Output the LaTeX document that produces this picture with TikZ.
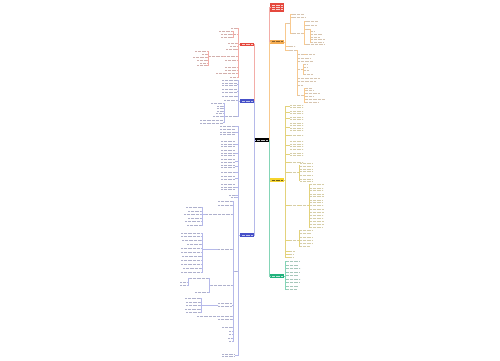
\documentclass[tikz,border=0pt]{standalone}
\definecolor{cred}{HTML}{E5483D}
\definecolor{corange}{HTML}{F4AC52}
\definecolor{cblue}{HTML}{4650C8}
\definecolor{cyellow}{HTML}{F6D42C}
\definecolor{cgreen}{HTML}{21B27C}
\tikzset{
  tn/.style={inner sep=0pt, outer sep=0pt},
  tx/.style={line width=0.9bp, draw={#1!60!black!38}, dash pattern=on 1bp off 0.3bp},
  lr/.style={draw=cred!45, line width=0.4bp},
  lo/.style={draw=corange!65, line width=0.4bp},
  lb/.style={draw=cblue!40, line width=0.4bp},
  ly/.style={draw=cyellow!85!black!60, line width=0.4bp},
  lg/.style={draw=cgreen!55, line width=0.4bp},
}
\def\tc{black}
% text block: name, x1, x2, ytop, number of lines
\newcommand\tl[5]{%
  \node[tn, minimum width={(#3-(#2))*1bp}, minimum height={#5*2.5bp}, anchor=north west] (#1) at (#2,#4) {};
  \foreach \ii in {1,...,#5}{\draw[tx=\tc] (#2,#4+\ii*2.5-1.2) -- (#3,#4+\ii*2.5-1.2);}%
}
% one-line leaf: name, x1, x2, ycenter
\newcommand\lf[4]{\tl{#1}{#2}{#3}{#4-1.25}{1}}
% connectors to children on the right / left
\newcommand\kR[4]{\foreach \q in {#4}{\draw[#3] (#1.east) -- ++(#2,0) |- (\q.west);}}
\newcommand\kL[4]{\foreach \q in {#4}{\draw[#3] (#1.west) -- ++(-#2,0) |- (\q.east);}}
% main topic: name, x1, ytop, x2, ybottom, fill, text colour, lines
\newcommand\mn[8]{%
  \node[tn, fill=#6, minimum width={(#4-(#2))*1bp}, minimum height={(#5-(#3))*1bp}, anchor=north west] (#1) at (#2,#3) {};
  \foreach \ii in {1,...,#8}{\draw[line width=0.55bp, draw=#7, dash pattern=on 0.9bp off 0.35bp] (#2+1.8,{#3+(#5-(#3))*\ii/(#8+1)}) -- (#4-1.8,{#3+(#5-(#3))*\ii/(#8+1)});}%
}
\begin{document}
\begin{tikzpicture}[x=1bp,y=-1bp]
\fill[white] (0,0) rectangle (500,360);
\useasboundingbox (0,0) rectangle (500,360);

% ---------- main topics ----------
\mn{C}{255}{138}{269}{142}{black}{white!75!black}{1}
\mn{T}{270}{3}{284}{12}{cred}{white!75!cred}{3}
\mn{O}{270}{40}{284}{43.5}{corange}{corange!55!black}{1}
\mn{R}{240}{42.8}{254}{46.2}{cred}{white!70!cred}{1}
\mn{B}{240}{99.3}{254}{102.7}{cblue}{white!65!cblue}{1}
\mn{D}{240}{233.3}{254}{236.7}{cblue}{white!65!cblue}{1}
\mn{Y}{270}{178.3}{284}{181.7}{cyellow}{cyellow!45!black}{1}
\mn{G}{270}{274.3}{284}{277.7}{cgreen}{white!70!cgreen}{1}

\draw[lr, line width=0.5bp] (C.west) -- ++(-0.5,0) |- (R.east);
\draw[lb, line width=0.5bp] (C.west) -- ++(-0.5,0) |- (B.east);
\draw[lb, line width=0.5bp] (C.west) -- ++(-0.5,0) |- (D.east);
\draw[lr, line width=0.5bp] (C.east) -- ++(0.5,0) |- (T.west);
\draw[lo, line width=0.5bp] (C.east) -- ++(0.5,0) |- (O.west);
\draw[ly, line width=0.5bp] (C.east) -- ++(0.5,0) |- (Y.west);
\draw[lg, line width=0.5bp] (C.east) -- ++(0.5,0) |- (G.west);

% ---------- orange branch ----------
\def\tc{corange}
\lf{O1}{286.5}{289.5}{23}
\lf{O2}{288.5}{295}{46.5}
\lf{O3}{288.5}{296}{50}
\kR{O}{1}{lo}{O1,O2,O3}
\lf{Oa}{291.5}{304}{14}
\lf{Ob}{291.5}{305}{17.5}
\lf{Oc}{291.5}{303}{33}
\kR{O1}{1}{lo}{Oa,Ob,Oc}
\lf{Oc1}{305.5}{318}{21}
\lf{Oc2}{305.5}{316}{25}
\lf{Oc3}{305.5}{309}{29}
\lf{Oc4}{305.5}{324}{44.5}
\kR{Oc}{1.2}{lo}{Oc1,Oc2,Oc3,Oc4}
\lf{Od1}{311}{314}{31.5}
\lf{Od2}{311}{322}{34.5}
\lf{Od3}{311}{320}{37}
\lf{Od4}{311}{325}{39.5}
\lf{Od5}{311}{323}{42}
\kR{Oc3}{1}{lo}{Od1,Od2,Od3,Od4,Od5}
\lf{Oe1}{298}{304}{54.5}
\lf{Oe2}{298}{310}{58}
\lf{Oe3}{298}{313}{61.5}
\lf{Oe4}{298}{302}{69}
\lf{Oe5}{298}{320}{78}
\lf{Oe6}{298}{315}{81.5}
\lf{Oe7}{298}{303}{85}
\lf{Oe8}{298}{303}{95}
\kR{O3}{1}{lo}{Oe1,Oe2,Oe3,Oe4,Oe5,Oe6,Oe7,Oe8}
\lf{Of1}{306}{314}{54.5}
\kR{Oe1}{1}{lo}{Of1}
\lf{Og1}{304}{307}{64.5}
\lf{Og2}{304}{307}{67.5}
\lf{Og3}{304}{308}{70.5}
\lf{Og4}{304}{312}{74}
\kR{Oe4}{1}{lo}{Og1,Og2,Og3,Og4}
\lf{Oh1}{306}{312}{88}
\lf{Oh2}{306}{313}{90.5}
\lf{Oh3}{306}{320}{93}
\lf{Oh4}{306}{313}{96}
\lf{Oh5}{306}{325}{99}
\lf{Oh6}{306}{318}{102}
\kR{Oe8}{1.5}{lo}{Oh1,Oh2,Oh3,Oh4,Oh5,Oh6}

% ---------- red branch ----------
\def\tc{cred}
\lf{R1}{231}{237}{28}
\lf{R2}{234}{237}{34}
\lf{R3}{228}{237}{43}
\lf{R4}{230}{237}{46}
\lf{R5}{226}{237}{49.5}
\lf{R6}{224}{237}{56}
\lf{R7}{225}{237}{60.5}
\lf{R8}{225}{237}{67}
\lf{R9}{225}{237}{70}
\lf{R10}{216}{237}{73.5}
\lf{R11}{230}{237}{77}
\kL{R}{1.5}{lr}{R1,R2,R3,R4,R5,R6,R7,R8,R9,R10,R11}
\lf{R2a}{219}{232}{31}
\lf{R2b}{221}{232}{34}
\lf{R2c}{221}{232}{37}
\kL{R2}{1}{lr}{R2a,R2b,R2c}
\lf{RM}{209}{223}{56}
\kL{R6}{0.5}{lr}{RM}
\lf{Rm1}{195}{206.5}{51.5}
\lf{Rm2}{202}{206.5}{54}
\lf{Rm3}{193}{206.5}{57}
\lf{Rm4}{197}{206.5}{60}
\lf{Rm5}{200}{206.5}{63}
\lf{Rm6}{197}{206.5}{65.5}
\kL{RM}{1.2}{lr}{Rm1,Rm2,Rm3,Rm4,Rm5,Rm6}

% ---------- blue branch 1 ----------
\def\tc{cblue}
\lf{B1}{222}{236.5}{80}
\tl{B2}{222}{236.5}{82}{2}
\tl{B3}{222}{236.5}{88.5}{2}
\lf{B4}{222}{236.5}{96.5}
\lf{B5}{224}{236.5}{100}
\lf{B6}{226}{236.5}{116.5}
\kL{B}{1.5}{lb}{B1,B2,B3,B4,B5,B6}
\lf{B6a}{211}{223}{103.5}
\lf{B6b}{217}{223}{106}
\lf{B6c}{217}{223}{108.5}
\lf{B6d}{217}{223}{111}
\lf{B6e}{216}{223}{113.5}
\lf{B6f}{213}{223}{116.5}
\tl{B6g}{200}{223}{119.5}{2}
\kL{B6}{1.5}{lb}{B6a,B6b,B6c,B6d,B6e,B6f,B6g}

% ---------- blue branch 2 ----------
\lf{b1}{220}{234.5}{126}
\tl{b2}{220}{234.5}{128.5}{3}
\tl{b3}{221}{234.5}{140.5}{3}
\tl{b4}{221}{234.5}{149.5}{3}
\tl{b5}{221}{234.5}{158.5}{2}
\tl{b6}{221}{234.5}{164}{2}
\lf{b7}{221}{234.5}{172}
\tl{b8}{221}{234.5}{175.5}{2}
\tl{b9}{221}{234.5}{183.5}{3}
\lf{b10}{229}{234.5}{195}
\lf{b11}{231}{234.5}{197.5}
\lf{X}{234.5}{237}{271}
\tl{b13}{222}{234.5}{353}{2}
\kL{D}{1.5}{lb}{b1,b2,b3,b4,b5,b6,b7,b8,b9,b10,b11,X,b13}
\lf{x1}{218}{231.5}{201.5}
\lf{x2}{218}{231.5}{205}
\lf{x3}{206}{231.5}{214}
\lf{x4}{218}{231.5}{249}
\lf{x5}{211}{231.5}{285}
\tl{x6}{218}{231.5}{302.5}{2}
\lf{x7}{218}{231.5}{316}
\lf{x8}{218}{231.5}{319.5}
\lf{x9}{222}{231.5}{327}
\lf{x10}{229}{231.5}{331}
\lf{x11}{229}{231.5}{334.5}
\lf{x12}{228}{231.5}{338}
\lf{x13}{229}{231.5}{341.5}
\kL{X}{1.5}{lb}{x1,x2,x3,x4,x5,x6,x7,x8,x9,x10,x11,x12,x13}
\lf{x3a}{186}{201}{207.5}
\lf{x3b}{188}{201}{211}
\lf{x3c}{184}{201}{214.5}
\lf{x3d}{188}{201}{218}
\lf{x3e}{185}{201}{221.5}
\lf{x3f}{187}{201}{225}
\kL{x3}{3.5}{lb}{x3a,x3b,x3c,x3d,x3e,x3f}
\lf{x4a}{181}{201}{233}
\lf{x4b}{181}{201}{236.5}
\lf{x4c}{182}{201}{240}
\lf{x4d}{187}{201}{244}
\lf{x4e}{181}{201}{248}
\lf{x4f}{181}{201}{252}
\lf{x4g}{182}{201}{256}
\lf{x4h}{181}{201}{260}
\lf{x4i}{181}{201}{264}
\lf{x4j}{183}{201}{268}
\lf{x4k}{181}{201}{272}
\kL{x4}{15.5}{lb}{x4a,x4b,x4c,x4d,x4e,x4f,x4g,x4h,x4i,x4j,x4k}
\lf{x5a}{190}{208}{278}
\lf{x5b}{195}{208}{292}
\kL{x5}{1.5}{lb}{x5a,x5b}
\lf{x5c}{180}{187}{282}
\lf{x5d}{180}{187}{285.5}
\kL{x5a}{1.5}{lb}{x5c,x5d}
\lf{x6a}{185}{199.5}{298.5}
\lf{x6b}{186}{199.5}{302}
\lf{x6c}{186}{199.5}{305.5}
\lf{x6d}{185}{199.5}{309}
\lf{x6e}{186}{199.5}{312.5}
\kL{x6}{17}{lb}{x6a,x6b,x6c,x6d,x6e}
\lf{x7a}{197}{217.5}{316}
\kL{x7}{0.25}{lb}{x7a}

% ---------- yellow branch ----------
\def\tc{cyellow}
\tl{Y1}{290}{303}{104}{2}
\tl{Y2}{290}{303}{110}{2}
\tl{Y3}{290}{303}{116}{2}
\tl{Y4}{290}{303}{122}{4}
\lf{Y5}{290}{303}{135}
\tl{Y6}{290}{303}{140.5}{4}
\tl{Y7}{290}{303}{152}{2}
\lf{Y8}{290}{303}{162}
\lf{Y9}{290}{298}{172}
\lf{Y10}{290}{298}{205}
\lf{Y11}{290}{298}{240}
\lf{Y12}{290}{294}{251}
\lf{Y13}{290}{293}{254.5}
\lf{Y14}{290}{293}{257.5}
\kR{Y}{1.5}{ly}{Y1,Y2,Y3,Y4,Y5,Y6,Y7,Y8,Y9,Y10,Y11,Y12,Y13,Y14}
\tl{Y9a}{300}{312}{162.5}{2}
\tl{Y9b}{300}{312}{168}{2}
\lf{Y9c}{300}{312}{175}
\tl{Y9d}{300}{312}{178}{2}
\kR{Y9}{1}{ly}{Y9a,Y9b,Y9c,Y9d}
\lf{Y10a}{300}{308}{205}
\kR{Y10}{1}{ly}{Y10a}
\lf{Ya1}{310}{324}{184}
\tl{Ya2}{310}{323}{187}{2}
\tl{Ya3}{310}{324}{193}{2}
\tl{Ya4}{310}{322}{199}{2}
\lf{Ya5}{310}{323}{205.5}
\tl{Ya6}{310}{324}{208.5}{2}
\tl{Ya7}{310}{323}{214.5}{2}
\tl{Ya8}{310}{324}{220.5}{2}
\lf{Ya9}{310}{322}{227.5}
\kR{Y10a}{1}{ly}{Ya1,Ya2,Ya3,Ya4,Ya5,Ya6,Ya7,Ya8,Ya9}
\lf{Yb1}{300}{312}{230}
\lf{Yb2}{300}{311}{233.5}
\lf{Yb3}{300}{312}{237}
\tl{Yb4}{300}{312}{239.5}{2}
\lf{Yb5}{300}{310}{246.5}
\kR{Y11}{1}{ly}{Yb1,Yb2,Yb3,Yb4,Yb5}

% ---------- green branch ----------
\def\tc{cgreen}
\lf{G1}{287}{299}{261.5}
\lf{G2}{287}{298}{265}
\lf{G3}{287}{300}{268.5}
\lf{G4}{287}{299}{272}
\lf{G5}{287}{298}{275.5}
\lf{G6}{287}{300}{279}
\lf{G7}{287}{299}{282.5}
\lf{G8}{287}{298}{286}
\lf{G9}{287}{297}{289.5}
\kR{G}{1.5}{lg}{G1,G2,G3,G4,G5,G6,G7,G8,G9}
\end{tikzpicture}
\end{document}
